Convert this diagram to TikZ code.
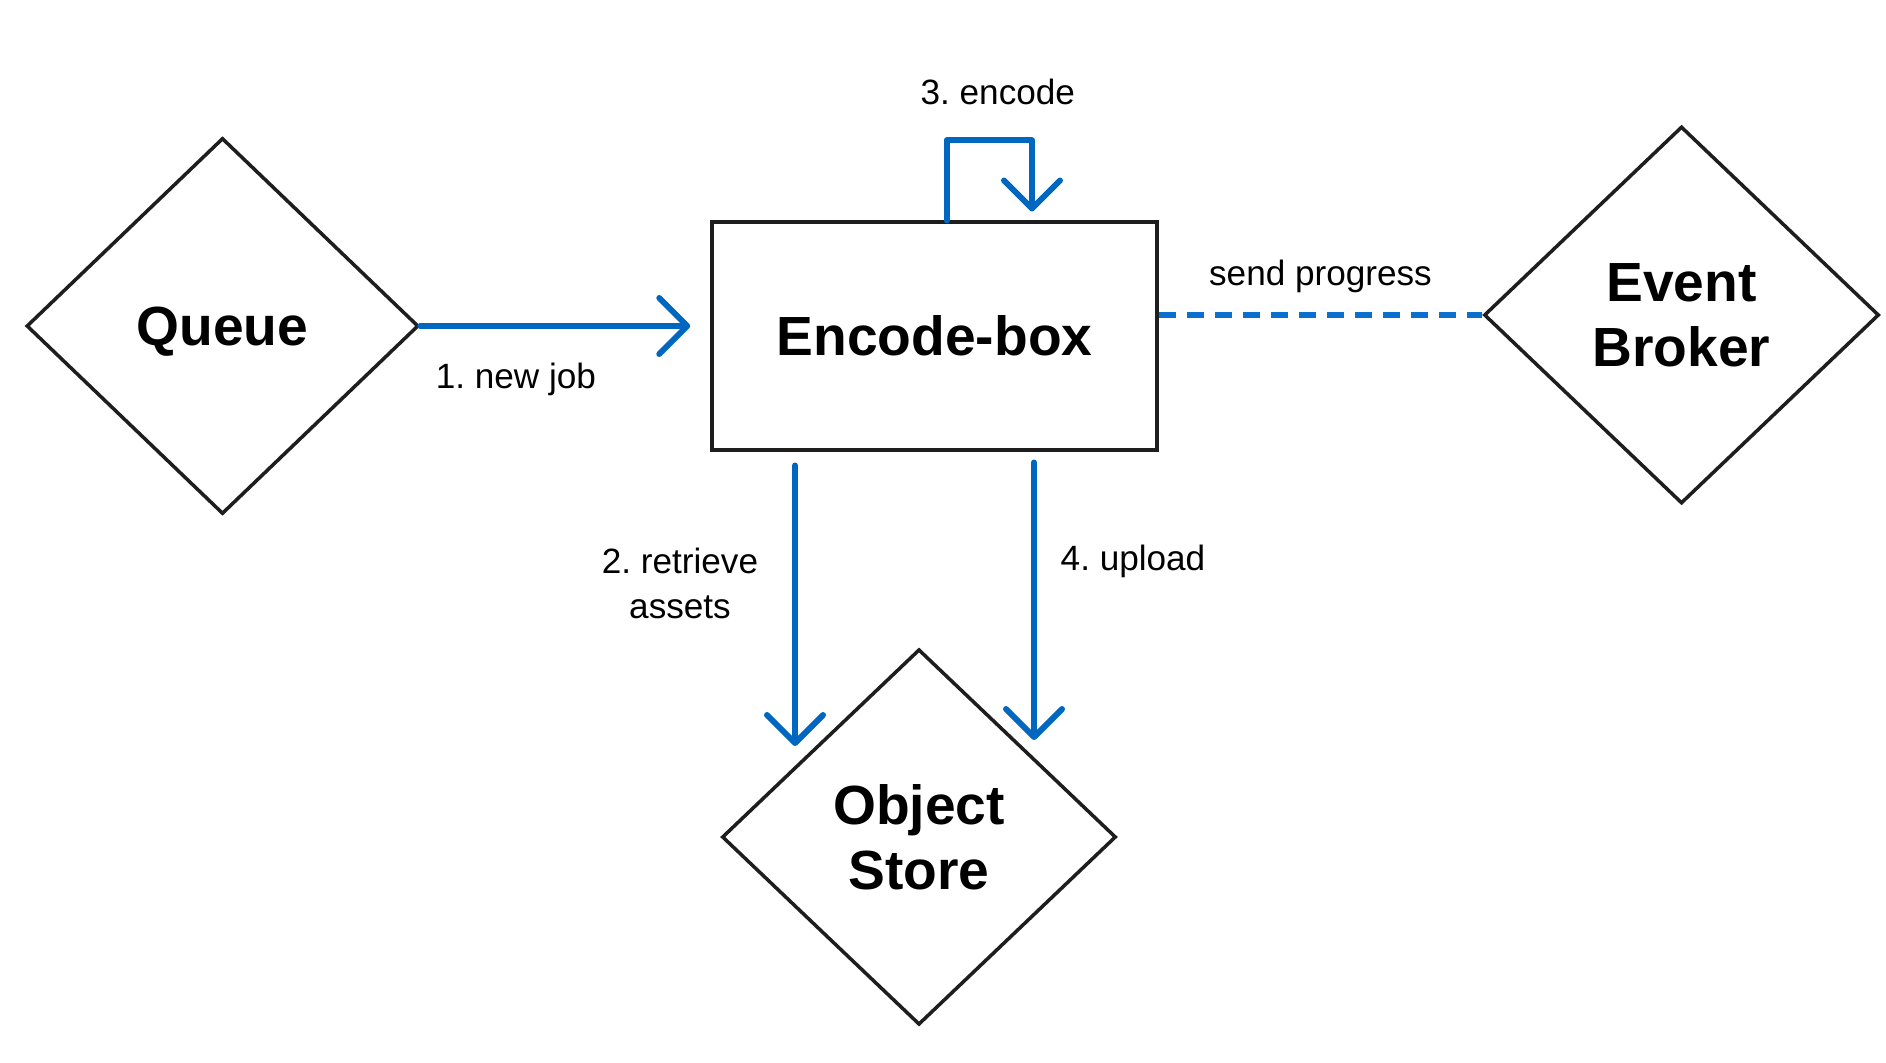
\documentclass[tikz,border=0pt]{standalone}
\usepackage{fontspec}
\setmainfont{Liberation Sans}
\usepackage{xcolor}
\usetikzlibrary{shapes.geometric,arrows.meta}
\definecolor{flowblue}{RGB}{0,103,192}
\definecolor{dashblue}{RGB}{10,112,205}
\definecolor{outline}{RGB}{30,30,30}
\frenchspacing

\begin{document}
\begin{tikzpicture}[>={Straight Barb[length=2.8mm,width=5.6mm,round]},
  part/.style={draw=outline, line width=1pt, font=\fontsize{15.7}{18.4}\selectfont\bfseries, align=center, inner sep=0pt},
  hub/.style={part, diamond},
  flow/.style={->, flowblue, line width=1.7pt, line cap=round, line join=round},
  lbl/.style={font=\fontsize{10}{13}\selectfont, text=black, align=center}]
\useasboundingbox (0,0) rectangle (18.86,10.62);

\node[hub, minimum width=3.92cm, minimum height=3.76cm] (queue) at (2.225,7.36) {\raisebox{-0.6mm}[\height][\depth]{Queue}};
\node[part, rectangle, minimum width=4.45cm, minimum height=2.275cm] (box) at (9.345,7.26) {Encode-box};
\node[hub, minimum width=3.95cm, minimum height=3.77cm] (broker) at (16.815,7.47) {Event\\Broker};
\node[hub, minimum width=3.94cm, minimum height=3.755cm] (store) at (9.19,2.25) {Object\\Store};
\coordinate (rtip) at (7.95,3.16);
\coordinate (utip) at (10.34,3.22);

\draw[flow, shorten >=2mm] (queue.east) -- (queue.east -| box.west) node[pos=0.33, yshift=-5.3mm, lbl] {1. new job};
\draw[flow] ([xshift=1.2mm]box.north) -- ++(0,0.8) -- ++(0.855,0) node[pos=0.6, yshift=4.9mm, lbl] {3. encode} -- ++(0,-0.71);
\draw[dashblue, line width=1.6pt, dash pattern=on 1.7mm off 1.1mm] (broker.west -| box.east) -- (broker.west) node[midway, yshift=3.9mm, lbl] {send progress};
\draw[flow] (rtip |- box.south) ++(0,-1.4mm) -- (rtip) node[pos=0.42, xshift=-11.5mm, lbl] {2. retrieve\\assets};
\draw[flow] (utip |- box.south) ++(0,-1.1mm) -- (utip) node[pos=0.355, xshift=9.9mm, lbl] {4. upload};
\end{tikzpicture}
\end{document}
